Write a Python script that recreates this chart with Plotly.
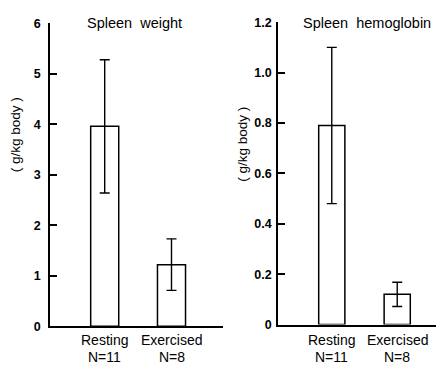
import plotly.graph_objects as go

# ---- data ----
categories = ["Resting", "Exercised"]
group_n = ["N=11", "N=8"]

weight_mean = [3.96, 1.22]
weight_err = [1.32, 0.51]

hemo_mean = [0.79, 0.12]
hemo_err = [0.31, 0.048]

weight_ticks = [0, 1, 2, 3, 4, 5, 6]
weight_ticktext = ["0", "1", "2", "3", "4", "5", "6"]
hemo_ticks = [0, 0.2, 0.4, 0.6, 0.8, 1.0, 1.2]
hemo_ticktext = ["0", "0.2", "0.4", "0.6", "0.8", "1.0", "1.2"]

panel_titles = ["Spleen  weight", "Spleen  hemoglobin"]
y_title = "( g/kg body )"

# page body has an 8px margin: figure is placed at (8, 8) in the window
OFF = 8
W, H = 444 - OFF, 371 - OFF
FONT = "Liberation Sans, Arial, Helvetica, sans-serif"


def px(x):  # window x pixel -> paper x
    return (x - OFF) / W


def py(y):  # window y pixel -> paper y
    return 1 - (y - OFF) / H


fig = go.Figure()


def bar(y, err, xa, ya, width):
    return go.Bar(
        x=list(range(len(y))), y=y, xaxis=xa, yaxis=ya, width=width,
        marker=dict(color="white", line=dict(color="black", width=1.5)),
        error_y=dict(type="data", array=err, visible=True, color="black",
                     thickness=1.4, width=5),
        showlegend=False, hoverinfo="skip",
    )


fig.add_trace(bar(weight_mean, weight_err, "x", "y", 0.42))
fig.add_trace(bar(hemo_mean, hemo_err, "x2", "y2", 0.40))

ax_common = dict(showgrid=False, zeroline=False, showline=True, linecolor="black",
                 linewidth=1.5, mirror=False, fixedrange=True)
tick_font = dict(size=12.5, family=FONT, weight="bold", color="black")

fig.update_layout(
    width=W, height=H, margin=dict(l=0, r=0, t=0, b=0),
    paper_bgcolor="white", plot_bgcolor="white",
    font=dict(family=FONT, color="black"),
    xaxis=dict(domain=[px(50), px(223)], range=[-0.819, 1.771],
               showticklabels=False, ticks="", anchor="y", **ax_common),
    yaxis=dict(domain=[py(331.7), py(16.7)], range=[0, 6],
               tickvals=weight_ticks, ticktext=weight_ticktext,
               ticks="inside", ticklen=7, tickwidth=1.5, tickcolor="black",
               tickfont=tick_font, ticklabelstandoff=5,
               anchor="x", **ax_common),
    xaxis2=dict(domain=[px(278), 1.0], range=[-0.822, 1.715],
                showticklabels=False, ticks="", anchor="y2", **ax_common),
    yaxis2=dict(domain=[py(330), py(15.5)], range=[0, 1.2],
                tickvals=hemo_ticks, ticktext=hemo_ticktext,
                ticks="inside", ticklen=7, tickwidth=1.5, tickcolor="black",
                tickfont=tick_font, ticklabelstandoff=2,
                anchor="x2", **ax_common),
)

ann = []
# panel titles
ann.append(dict(text=panel_titles[0], x=px(85), y=py(16), xref="paper", yref="paper",
                xanchor="left", yanchor="middle", showarrow=False, font=dict(size=14.5)))
ann.append(dict(text=panel_titles[1], x=px(301), y=py(16), xref="paper", yref="paper",
                xanchor="left", yanchor="middle", showarrow=False, font=dict(size=14.5)))
# y titles
ann.append(dict(text=y_title, x=px(15), y=py(133), xref="paper", yref="paper",
                textangle=-90, xanchor="center", yanchor="middle", showarrow=False,
                font=dict(size=13.5)))
ann.append(dict(text=y_title, x=px(243), y=py(143), xref="paper", yref="paper",
                textangle=-90, xanchor="center", yanchor="middle", showarrow=False,
                font=dict(size=13.5)))
# category labels
for xa in ["x", "x2"]:
    for i, (c, n) in enumerate(zip(categories, group_n)):
        ann.append(dict(text=c, x=i, y=py(346.5), xref=xa, yref="paper",
                        xanchor="center", yanchor="middle", showarrow=False,
                        font=dict(size=14)))
        ann.append(dict(text=n, x=i, y=py(364), xref=xa, yref="paper",
                        xanchor="center", yanchor="middle", showarrow=False,
                        font=dict(size=14)))
fig.update_layout(annotations=ann)

fig.write_html("out.html")
